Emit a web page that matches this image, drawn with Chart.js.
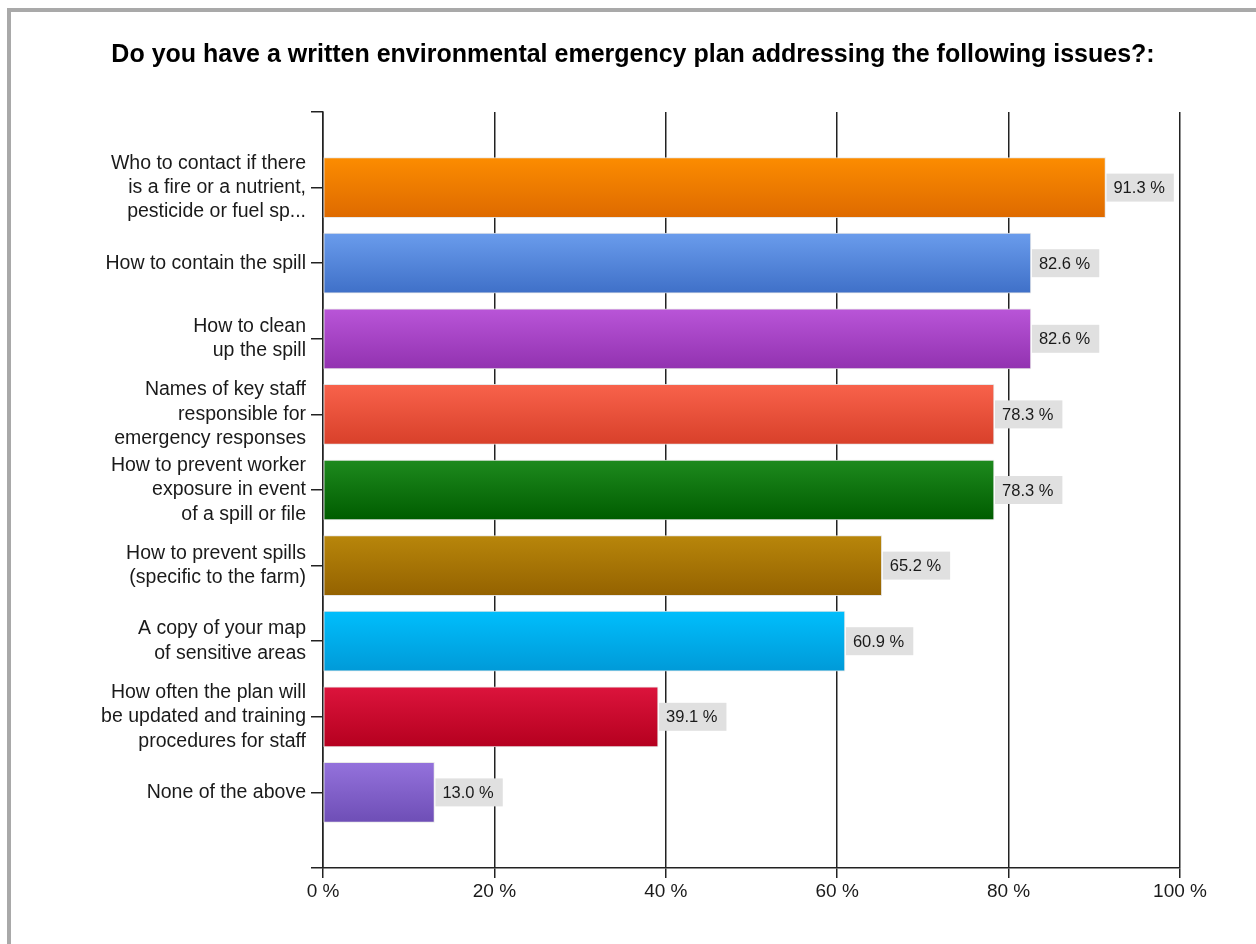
<!DOCTYPE html>
<html>
<head>
<meta charset="utf-8">
<script src="https://cdn.jsdelivr.net/npm/chart.js@4/dist/chart.umd.min.js"></script>
<style>
    html, body { margin: 0; padding: 0; background: #fff; overflow: hidden; }
    #frame { position: absolute; left: 7px; top: 8px; width: 1300px; height: 1000px; border: 4px solid #a9a9a9; }
    #wrap { position: absolute; left: 0; top: 0; width: 1256px; height: 944px; }
</style>
</head>
<body>
<div id="frame"></div>
<div id="wrap"><canvas id="surveyChart" width="1256" height="944"></canvas></div>
<script>
const chartTitle = 'Do you have a written environmental emergency plan addressing the following issues?:';

const categories = [
    ['Who to contact if there', 'is a fire or a nutrient,', 'pesticide or fuel sp...'],
    'How to contain the spill',
    ['How to clean', 'up the spill'],
    ['Names of key staff', 'responsible for', 'emergency responses'],
    ['How to prevent worker', 'exposure in event', 'of a spill or file'],
    ['How to prevent spills', '(specific to the farm)'],
    ['A copy of your map', 'of sensitive areas'],
    ['How often the plan will', 'be updated and training', 'procedures for staff'],
    'None of the above'
];
const percentValues = [91.3, 82.6, 82.6, 78.3, 78.3, 65.2, 60.9, 39.1, 13.0];
const xTickLabels = ['0 %', '20 %', '40 %', '60 %', '80 %', '100 %'];

// top / bottom colour of each bar gradient
const barTops = ['#fc8c00', '#6a9cec', '#b955d8', '#f8624b', '#1e8a1e', '#b8860b', '#00befc', '#dc143c', '#9472dc'];
const barBottoms = ['#de6a00', '#3f70c8', '#9232b0', '#d8402a', '#005c00', '#946200', '#009ad8', '#b5001f', '#6e4eb6'];

const FONT = '"Liberation Sans", Arial, sans-serif';

// empty slot above and below so the categories sit one step in from the ends
const yLabels = [''].concat(categories, ['']);
const yData = [null].concat(percentValues, [null]);
const tops = [null].concat(barTops, [null]);
const bottoms = [null].concat(barBottoms, [null]);

function barFill(c) {
    const i = c.dataIndex;
    if (tops[i] == null) return 'rgba(0,0,0,0)';
    const chart = c.chart;
    const yScale = chart.scales && chart.scales.y;
    if (!chart.chartArea || !yScale) return tops[i];
    const cy = yScale.getPixelForValue(i);
    if (!isFinite(cy)) return tops[i];
    const g = chart.ctx.createLinearGradient(0, cy - 30, 0, cy + 30);
    g.addColorStop(0, tops[i]);
    g.addColorStop(1, bottoms[i]);
    return g;
}

// grey value boxes at the bar ends
const valueBoxes = {
    id: 'valueBoxes',
    afterDatasetsDraw(chart) {
        const ctx = chart.ctx;
        const meta = chart.getDatasetMeta(0);
        ctx.save();
        ctx.font = '16.5px ' + FONT;
        ctx.textBaseline = 'middle';
        ctx.textAlign = 'left';
        meta.data.forEach((bar, i) => {
            const v = yData[i];
            if (v == null) return;
            const txt = v.toFixed(1) + ' %';
            const w = ctx.measureText(txt).width + 16;
            const left = bar.x + 1;
            ctx.fillStyle = '#e0e0e0';
            ctx.fillRect(left, bar.y - 14, w, 28);
            ctx.fillStyle = '#1a1a1a';
            ctx.fillText(txt, left + 7, bar.y + 1);
        });
        ctx.restore();
    }
};

new Chart('surveyChart', {
    type: 'bar',
    data: {
        labels: yLabels,
        datasets: [{
            data: yData,
            backgroundColor: barFill,
            borderColor: 'rgba(230,230,230,0.9)',
            borderWidth: 1,
            borderSkipped: false,
            barThickness: 60
        }]
    },
    options: {
        indexAxis: 'y',
        responsive: false,
        animation: false,
        // left padding keeps the title centred; y labels spill into it
        layout: { padding: { left: 86, right: 76, top: 0, bottom: 0 } },
        plugins: {
            legend: { display: false },
            tooltip: { enabled: false },
            title: {
                display: true,
                text: chartTitle,
                color: '#000',
                font: { family: FONT, size: 25, weight: 'bold' },
                padding: { top: 40, bottom: 42 }
            }
        },
        scales: {
            x: {
                min: 0,
                max: 100,
                ticks: {
                    stepSize: 20,
                    color: '#1a1a1a',
                    padding: 2,
                    font: { family: FONT, size: 19 },
                    callback: (v, i) => xTickLabels[i]
                },
                grid: { color: '#222', lineWidth: 1.5, tickLength: 10 },
                border: { color: '#222', width: 1.5 },
                afterFit: s => { s.height = 76; }
            },
            y: {
                offset: false,
                ticks: {
                    autoSkip: false,
                    color: '#1a1a1a',
                    padding: 5,
                    font: { family: FONT, size: 19.5, lineHeight: 1.25 }
                },
                grid: { offset: false, drawOnChartArea: false, color: '#222', lineWidth: 1.5, tickLength: 12 },
                border: { color: '#222', width: 1.5 },
                afterFit: s => { s.width = 237; }
            }
        }
    },
    plugins: [valueBoxes]
});
</script>
</body>
</html>
